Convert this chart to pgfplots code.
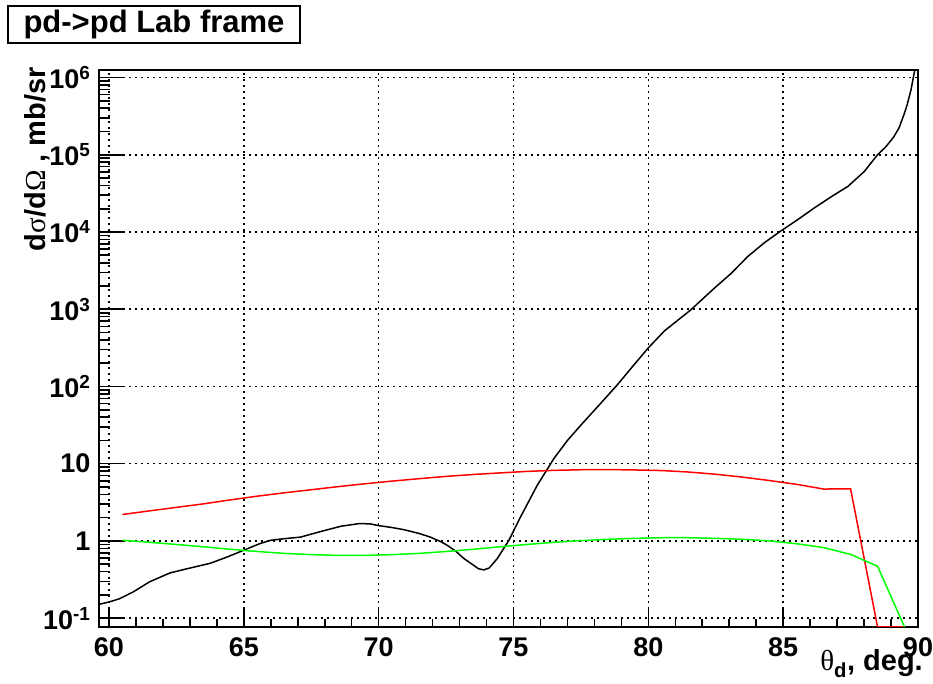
\documentclass[border=0pt]{standalone}
\usepackage{fontspec}
\setmainfont{Liberation Sans}
\newfontfamily\grk{Liberation Serif}
\usepackage{pgfplots}
\pgfplotsset{compat=1.18}
\begin{document}
\begin{tikzpicture}
\useasboundingbox (-99pt,-57pt) rectangle (834pt,627pt);
\begin{axis}[
  at={(0pt,0pt)}, anchor=south west,
  scale only axis, width=819pt, height=557pt,
  xmin=59.63, xmax=90, ymode=log, ymin=0.0769, ymax=1.25e6,
  axis line style={line width=2pt},
  xtick={60,65,70,75,80,85,90},
  minor x tick num=4,
  ytick={0.1,1,10,100,1000,10000,100000,1000000},
  yticklabels={10\textsuperscript{-1},1,10,10\textsuperscript{2},10\textsuperscript{3},10\textsuperscript{4},10\textsuperscript{5},10\textsuperscript{6}},
  xticklabels={60,65,70,75,80,85,90},
  tick align=inside, xtick pos=bottom, ytick pos=left,
  tick style={black, line width=1.6pt},
  xtick style={/pgfplots/major tick length=18pt,/pgfplots/minor tick length=8pt},
  ytick style={/pgfplots/major tick length=24pt,/pgfplots/minor tick length=11pt},
  grid=major,
  major grid style={black, line width=1.6pt, dash pattern=on 1.6pt off 4.4pt},
  ticklabel style={font=\fontsize{27}{27}\selectfont\bfseries},
  xticklabel style={yshift=-7pt},
  yticklabel style={xshift=-5pt},
]
\addplot[black, line width=1.5pt] coordinates {
(59.63,0.151) (60.0,0.162) (60.4,0.179) (60.9,0.219) (61.5,0.295) (62.26,0.385)
(62.9,0.437) (63.75,0.513) (64.37,0.617) (65.0,0.759) (65.6,0.925) (66.0,1.02)
(66.5,1.07) (67.1,1.12) (67.8,1.31) (68.6,1.55) (69.3,1.68) (69.7,1.66)
(70.0,1.58) (70.5,1.49) (70.93,1.40) (71.5,1.25) (71.92,1.12) (72.3,0.98)
(72.54,0.879) (72.85,0.741) (73.16,0.592) (73.5,0.49) (73.7,0.437) (73.9,0.422)
(74.1,0.447) (74.4,0.592) (74.83,1.02) (75.26,2.04) (75.88,5.25) (76.38,10.0)
(76.5,11.7) (77.0,20.0) (77.5,31.6) (78.23,60.3) (78.85,105) (79.47,191)
(80.0,316) (80.6,525) (81.57,977) (82.44,1862) (83.06,2884) (83.68,4786)
(84.3,7244) (84.9,10233) (85.5,14125) (86.15,20417) (86.8,28840) (87.4,38905)
(88.0,60256) (88.5,100000) (88.8,125893) (89.1,169824) (89.3,223872) (89.5,346737)
(89.6,446684) (89.74,691831) (89.87,1200000) (89.95,1580000)
};
\addplot[red, line width=1.5pt] coordinates {
(60.5,2.2) (61.5,2.45) (62.5,2.72) (63.5,3.02) (64.5,3.4) (65.5,3.8)
(66.5,4.2) (67.5,4.6) (68.5,5.05) (69.5,5.5) (70.5,5.95) (71.5,6.4)
(72.5,6.85) (73.5,7.25) (74.5,7.6) (75.5,7.95) (76.5,8.2) (77.5,8.35)
(78.5,8.4) (79.5,8.3) (80.5,8.15) (81.5,7.8) (82.5,7.3) (83.5,6.7)
(84.5,6.05) (85.5,5.4) (86.5,4.7) (87.5,4.72) (88.5,0.0769) (89.5,0.0769)
};
\addplot[green, line width=1.5pt] coordinates {
(60.5,1.02) (61.5,0.96) (62.5,0.9) (63.5,0.84) (64.5,0.78) (65.5,0.73)
(66.5,0.69) (67.5,0.665) (68.5,0.65) (69.5,0.65) (70.5,0.665) (71.5,0.69)
(72.5,0.73) (73.5,0.78) (74.5,0.84) (75.5,0.9) (76.5,0.96) (77.5,1.01)
(78.5,1.05) (79.5,1.08) (80.5,1.1) (81.5,1.1) (82.5,1.08) (83.5,1.05)
(84.5,1.0) (85.5,0.92) (86.5,0.82) (87.5,0.67) (88.5,0.47) (89.5,0.0769)
};
\end{axis}
\node[draw, line width=1.5pt, fill=white, minimum width=292pt, minimum height=37pt, inner sep=0pt,
  font=\fontsize{31}{31}\selectfont\bfseries] at (55pt,602.5pt) {pd->pd Lab frame};
\node[rotate=90, anchor=base east, inner sep=0pt, font=\fontsize{29}{29}\selectfont\bfseries]
  at (-54pt,560pt) {d{\grk\mdseries σ}/d{\grk\mdseries Ω} , mb/sr};
\node[anchor=base east, inner sep=0pt, font=\fontsize{29}{29}\selectfont\bfseries]
  at (824pt,-44pt) {{\grk\mdseries θ}\textsubscript{d}, deg.};
\end{tikzpicture}
\end{document}
